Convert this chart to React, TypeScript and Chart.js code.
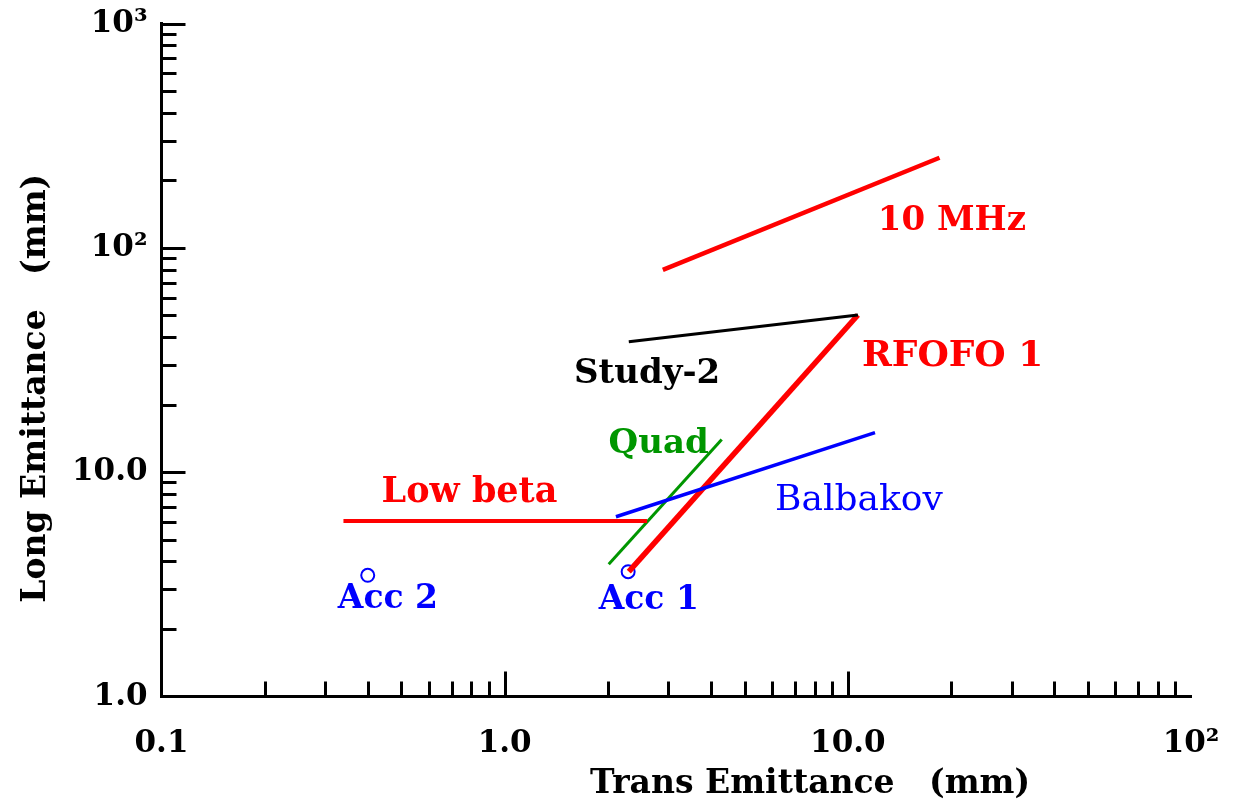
import React, { useEffect, useRef } from 'react';
import { Chart, registerables } from 'chart.js';

Chart.register(...registerables);

// ---- axis ticks ----
const xMajorTicks = [0.1, 1, 10, 100];
const xTickLabels = ['0.1', '1.0', '10.0', '10²'];
const yMajorTicks = [1, 10, 100, 1000];
const yTickLabels = ['1.0', '10.0', '10²', '10³'];
const minorMultipliers = [2, 3, 4, 5, 6, 7, 8, 9];
const xTitle = 'Trans Emittance   (mm)';
const yTitle = 'Long Emittance   (mm)';

// ---- series (x: trans emittance mm, y: long emittance mm) ----
const mhz10X = [2.89, 18.5];
const mhz10Y = [79.7, 252];
const study2X = [2.3, 10.7];
const study2Y = [38.1, 50.2];
const rfofoX = [2.3, 10.7];
const rfofoY = [3.6, 50.2];
const quadX = [2.01, 4.29];
const quadY = [3.89, 14.0];
const balbakovX = [2.11, 12.0];
const balbakovY = [6.33, 15.0];
const lowBetaX = [0.339, 2.6];
const lowBetaY = [6.06, 6.06];
const accX = [2.29, 0.399];
const accY = [3.6, 3.47];

// ---- text annotations (data coords: centre x, baseline y) ----
const noteTexts = ['10 MHz', 'Study-2', 'RFOFO 1', 'Quad', 'Balbakov', 'Low beta', 'Acc 2', 'Acc 1'];
const noteX = [20.1, 2.6, 20.2, 2.81, 10.77, 0.79, 0.457, 2.63];
const noteY = [120.2, 25.0, 29.8, 12.18, 6.78, 7.37, 2.48, 2.45];
const noteColors = ['#ff0000', '#000000', '#ff0000', '#009600', '#0000ff', '#ff0000', '#0000ff', '#0000ff'];
const noteBold = [true, true, true, true, false, true, true, true];
const noteSizes = [34, 34, 36, 34, 36, 35, 33, 33];

const RED = '#ff0000';
const BLUE = '#0000ff';
const GREEN = '#009600';
const FAMILY = '"DejaVu Serif", serif';

const pts = (xs: number[], ys: number[]) => xs.map((x, i) => ({ x, y: ys[i] }));

const buildTicks = (majors: number[]) => {
  const out: number[] = [];
  majors.forEach((m, i) => {
    out.push(m);
    if (i < majors.length - 1) minorMultipliers.forEach((k) => out.push(m * k));
  });
  return out;
};

const isMajor = (v: number, majors: number[]) => majors.some((m) => Math.abs(v - m) / m < 1e-6);

const overlay = {
  id: 'overlay',
  afterDraw(chart: any) {
    const ctx = chart.ctx;
    const xs = chart.scales.x;
    const ys = chart.scales.y;
    const a = chart.chartArea;
    ctx.save();
    ctx.strokeStyle = '#000';
    ctx.lineWidth = 3;
    ctx.lineCap = 'butt';
    for (const t of xs.ticks) {
      if (t.value <= xMajorTicks[0] || t.value >= xMajorTicks[xMajorTicks.length - 1]) continue;
      const px = Math.round(xs.getPixelForValue(t.value)) + 0.5;
      const len = isMajor(t.value, xMajorTicks) ? 25 : 15;
      ctx.beginPath();
      ctx.moveTo(px, a.bottom);
      ctx.lineTo(px, a.bottom - len);
      ctx.stroke();
    }
    for (const t of ys.ticks) {
      if (t.value <= yMajorTicks[0]) continue;
      const py = Math.round(ys.getPixelForValue(t.value)) + 0.5;
      const len = isMajor(t.value, yMajorTicks) ? 24 : 15;
      ctx.beginPath();
      ctx.moveTo(a.left, py);
      ctx.lineTo(a.left + len, py);
      ctx.stroke();
    }

    // axis titles
    ctx.fillStyle = '#000';
    ctx.font = `bold 33px ${FAMILY}`;
    ctx.textAlign = 'center';
    ctx.textBaseline = 'alphabetic';
    ctx.fillText(xTitle, a.left + (a.right - a.left) * 0.630, a.bottom + 96);
    ctx.save();
    ctx.translate(45, a.top + (a.bottom - a.top) * 0.542);
    ctx.rotate(-Math.PI / 2);
    ctx.fillText(yTitle, 0, 0);
    ctx.restore();

    // annotations
    noteTexts.forEach((txt, i) => {
      ctx.font = `${noteBold[i] ? 'bold ' : ''}${noteSizes[i]}px ${FAMILY}`;
      ctx.fillStyle = noteColors[i];
      ctx.fillText(txt, xs.getPixelForValue(noteX[i]), ys.getPixelForValue(noteY[i]));
    });
    ctx.restore();
  },
};

export default function App() {
  const ref = useRef<HTMLCanvasElement | null>(null);
  useEffect(() => {
    if (!ref.current) return;
    const lineDs = (label: string, xs: number[], ys: number[], color: string, width: number) => ({
      type: 'scatter' as const,
      label,
      data: pts(xs, ys),
      showLine: true,
      borderColor: color,
      backgroundColor: color,
      borderWidth: width,
      pointRadius: 0,
      borderCapStyle: 'butt' as const,
    });
    const chart = new Chart(ref.current, {
      type: 'scatter',
      data: {
        datasets: [
          lineDs('10 MHz', mhz10X, mhz10Y, RED, 4.5),
          lineDs('Study-2', study2X, study2Y, '#000000', 3),
          lineDs('Low beta', lowBetaX, lowBetaY, RED, 4),
          lineDs('Balbakov', balbakovX, balbakovY, BLUE, 3.5),
          lineDs('Quad', quadX, quadY, GREEN, 3),
          lineDs('RFOFO 1', rfofoX, rfofoY, RED, 5.5),
          {
            type: 'scatter' as const,
            label: 'Acc',
            data: pts(accX, accY),
            showLine: false,
            pointStyle: 'circle',
            pointRadius: 6.5,
            pointBorderWidth: 2,
            pointBorderColor: BLUE,
            pointBackgroundColor: 'rgba(0,0,0,0)',
            borderColor: BLUE,
          },
        ],
      },
      options: {
        responsive: false,
        animation: false,
        devicePixelRatio: 1,
        layout: { padding: { top: 23.5, right: 45, left: 0, bottom: 0 } },
        plugins: { legend: { display: false }, tooltip: { enabled: false } },
        scales: {
          x: {
            type: 'logarithmic',
            min: 0.1,
            max: 100,
            afterBuildTicks: (s: any) => {
              s.ticks = buildTicks(xMajorTicks).map((v) => ({ value: v }));
            },
            afterFit: (s: any) => {
              s.height = 114.5;
            },
            grid: { display: false, drawTicks: false },
            border: { display: true, width: 3, color: '#000' },
            ticks: {
              autoSkip: false,
              maxRotation: 0,
              padding: 15,
              color: '#000',
              font: { family: FAMILY, size: 31, weight: 'bold', lineHeight: 2.1 },
              callback: (v: any) => {
                const i = xMajorTicks.findIndex((m) => Math.abs(Number(v) - m) / m < 1e-6);
                return i >= 0 ? xTickLabels[i] : '';
              },
            },
          },
          y: {
            type: 'logarithmic',
            min: 1,
            max: 1000,
            afterBuildTicks: (s: any) => {
              s.ticks = buildTicks(yMajorTicks).map((v) => ({ value: v }));
            },
            afterFit: (s: any) => {
              s.width = 161.5;
            },
            grid: { display: false, drawTicks: false },
            border: { display: true, width: 3, color: '#000' },
            ticks: {
              autoSkip: false,
              padding: 14,
              color: '#000',
              font: { family: FAMILY, size: 31, weight: 'bold', lineHeight: 0.6 },
              callback: (v: any) => {
                const i = yMajorTicks.findIndex((m) => Math.abs(Number(v) - m) / m < 1e-6);
                return i >= 0 ? yTickLabels[i] : '';
              },
            },
          },
        },
      },
      plugins: [overlay],
    } as any);
    return () => chart.destroy();
  }, []);
  return (
    <div style={{ position: 'absolute', left: 0, top: 0, width: 1236, height: 811, background: '#fff' }}>
      <canvas ref={ref} width={1236} height={811} style={{ display: 'block' }} />
    </div>
  );
}
